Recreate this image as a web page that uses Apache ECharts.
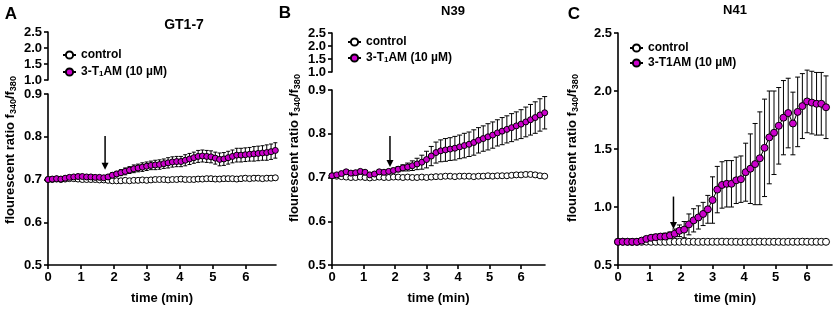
<!DOCTYPE html>
<html>
<head>
<meta charset="utf-8">
<script src="https://cdn.jsdelivr.net/npm/echarts@6/dist/echarts.min.js"></script>
<style>
  html, body { margin: 0; padding: 0; background: #fff; }
  #chart { width: 835px; height: 310px; }
</style>
</head>
<body>
<div id="chart"></div>
<script>
// panel A - GT1-7
const timeA = [0,0.13,0.26,0.39,0.52,0.65,0.78,0.91,1.04,1.17,1.3,1.43,1.56,1.69,1.82,1.95,2.08,2.21,2.34,2.47,2.6,2.73,2.86,2.99,3.12,3.25,3.38,3.51,3.64,3.77,3.9,4.03,4.16,4.29,4.42,4.55,4.68,4.81,4.94,5.07,5.2,5.33,5.46,5.59,5.72,5.85,5.98,6.11,6.24,6.37,6.5,6.63,6.76,6.89];
const ctrlA = [0.700,0.700,0.701,0.700,0.701,0.702,0.702,0.701,0.700,0.700,0.700,0.700,0.699,0.699,0.698,0.697,0.697,0.697,0.698,0.697,0.698,0.698,0.699,0.698,0.699,0.700,0.700,0.700,0.699,0.700,0.700,0.701,0.700,0.700,0.700,0.701,0.701,0.702,0.702,0.701,0.701,0.702,0.702,0.702,0.701,0.702,0.703,0.702,0.703,0.703,0.702,0.703,0.703,0.704];
const ctrlErrA = [0.002,0.002,0.003,0.003,0.003,0.003,0.003,0.003,0.003,0.003,0.003,0.003,0.003,0.003,0.004,0.004,0.004,0.004,0.004,0.004,0.004,0.004,0.004,0.004,0.004,0.004,0.004,0.004,0.004,0.004,0.004,0.004,0.004,0.004,0.004,0.005,0.005,0.005,0.005,0.005,0.005,0.005,0.005,0.005,0.005,0.005,0.005,0.005,0.005,0.005,0.005,0.005,0.005,0.005];
const drugA = [0.700,0.701,0.702,0.701,0.703,0.705,0.706,0.707,0.707,0.706,0.706,0.705,0.705,0.704,0.706,0.710,0.713,0.716,0.719,0.722,0.725,0.727,0.729,0.731,0.733,0.734,0.735,0.737,0.739,0.741,0.742,0.742,0.745,0.748,0.751,0.754,0.755,0.754,0.753,0.750,0.747,0.748,0.751,0.754,0.757,0.757,0.758,0.759,0.760,0.761,0.762,0.763,0.765,0.768];
const drugErrA = [0.002,0.003,0.003,0.003,0.003,0.004,0.004,0.004,0.004,0.004,0.004,0.004,0.004,0.004,0.005,0.006,0.006,0.007,0.008,0.008,0.009,0.009,0.010,0.010,0.010,0.011,0.011,0.011,0.012,0.012,0.012,0.012,0.013,0.013,0.013,0.014,0.014,0.014,0.014,0.014,0.015,0.015,0.015,0.015,0.016,0.016,0.016,0.016,0.017,0.017,0.017,0.018,0.018,0.018];
const arrowA = [1.73, 0.802, 0.723]; // time, top, tip

// panel B - N39
const timeB = [0,0.15,0.3,0.45,0.6,0.75,0.9,1.05,1.2,1.35,1.5,1.65,1.8,1.95,2.1,2.25,2.4,2.55,2.7,2.85,3,3.15,3.3,3.45,3.6,3.75,3.9,4.05,4.2,4.35,4.5,4.65,4.8,4.95,5.1,5.25,5.4,5.55,5.7,5.85,6,6.15,6.3,6.45,6.6,6.75];
const ctrlB = [0.704,0.703,0.702,0.701,0.700,0.700,0.701,0.700,0.699,0.700,0.701,0.700,0.700,0.701,0.701,0.700,0.701,0.700,0.700,0.701,0.700,0.701,0.702,0.702,0.703,0.703,0.702,0.703,0.703,0.703,0.702,0.703,0.703,0.704,0.703,0.704,0.704,0.704,0.705,0.706,0.706,0.707,0.707,0.706,0.704,0.703];
const ctrlErrB = [0.003,0.003,0.003,0.003,0.003,0.003,0.003,0.003,0.003,0.003,0.003,0.003,0.003,0.003,0.003,0.003,0.003,0.003,0.003,0.003,0.003,0.003,0.003,0.003,0.003,0.003,0.003,0.003,0.003,0.003,0.003,0.003,0.003,0.003,0.003,0.003,0.003,0.004,0.004,0.004,0.004,0.004,0.004,0.004,0.004,0.004];
const drugB = [0.704,0.706,0.709,0.713,0.710,0.711,0.714,0.712,0.706,0.708,0.713,0.712,0.714,0.716,0.719,0.722,0.724,0.727,0.731,0.735,0.741,0.749,0.757,0.761,0.763,0.765,0.767,0.770,0.773,0.776,0.780,0.785,0.789,0.793,0.797,0.802,0.806,0.810,0.814,0.818,0.822,0.827,0.832,0.837,0.843,0.848];
const drugErrB = [0.003,0.003,0.003,0.004,0.004,0.004,0.004,0.004,0.004,0.004,0.004,0.004,0.004,0.005,0.006,0.007,0.009,0.011,0.013,0.016,0.019,0.022,0.024,0.025,0.026,0.026,0.027,0.027,0.028,0.028,0.029,0.029,0.029,0.030,0.030,0.030,0.031,0.031,0.032,0.032,0.033,0.034,0.035,0.036,0.037,0.037];
const arrowB = [1.84, 0.795, 0.724];

// panel C - N41
const timeC = [0,0.15,0.3,0.45,0.6,0.75,0.9,1.05,1.2,1.35,1.5,1.65,1.8,1.95,2.1,2.25,2.4,2.55,2.7,2.85,3,3.15,3.3,3.45,3.6,3.75,3.9,4.05,4.2,4.35,4.5,4.65,4.8,4.95,5.1,5.25,5.4,5.55,5.7,5.85,6,6.15,6.3,6.45,6.6];
const ctrlC = [0.700,0.701,0.700,0.699,0.700,0.700,0.701,0.700,0.700,0.700,0.699,0.700,0.700,0.700,0.701,0.700,0.700,0.699,0.700,0.700,0.700,0.700,0.701,0.700,0.700,0.700,0.699,0.700,0.700,0.700,0.701,0.700,0.700,0.700,0.700,0.699,0.700,0.700,0.700,0.701,0.700,0.700,0.700,0.700,0.700];
const ctrlErrC = [0.008,0.008,0.008,0.008,0.008,0.008,0.008,0.008,0.008,0.008,0.008,0.008,0.008,0.008,0.008,0.008,0.008,0.008,0.008,0.008,0.008,0.008,0.008,0.008,0.008,0.008,0.008,0.008,0.008,0.008,0.008,0.008,0.008,0.008,0.008,0.008,0.008,0.008,0.008,0.008,0.008,0.008,0.008,0.008,0.008];
const drugC = [0.70,0.70,0.70,0.70,0.70,0.71,0.725,0.735,0.74,0.745,0.745,0.755,0.77,0.795,0.805,0.85,0.885,0.91,0.94,0.98,1.06,1.15,1.19,1.20,1.20,1.23,1.24,1.30,1.33,1.37,1.42,1.51,1.60,1.64,1.70,1.77,1.81,1.72,1.82,1.87,1.91,1.90,1.89,1.89,1.86];
const drugErrC = [0.01,0.01,0.01,0.01,0.01,0.015,0.02,0.02,0.025,0.025,0.03,0.03,0.04,0.05,0.07,0.09,0.10,0.10,0.10,0.12,0.20,0.20,0.20,0.20,0.20,0.20,0.20,0.25,0.30,0.35,0.40,0.42,0.40,0.36,0.33,0.32,0.30,0.27,0.30,0.28,0.27,0.27,0.27,0.27,0.27];
const arrowC = [1.76, 1.09, 0.81];

// ticks
const xTicks = [0, 1, 2, 3, 4, 5, 6];
const yTicksLow = [0.5, 0.6, 0.7, 0.8, 0.9];
const yTicksHigh = [1.0, 1.5, 2.0, 2.5];
const yTicksC = [0.5, 1.0, 1.5, 2.0, 2.5];

const FONT = 'Liberation Sans, Arial, sans-serif';
const MAGENTA = '#cc00cc';

let chartDom = document.getElementById('chart');
let chart = echarts.init(chartDom, null, {renderer: 'canvas'});

function xAxisOf(grid, max, show) {
  return {
    type: 'value', gridIndex: grid, min: 0, max: max, show: show,
    name: 'time (min)', nameLocation: 'middle', nameGap: 27,
    nameTextStyle: {color: '#000', fontSize: 13, fontWeight: 'bold', fontFamily: FONT},
    axisLine: {lineStyle: {color: '#000', width: 1.6}},
    axisTick: {length: 4, customValues: xTicks, lineStyle: {color: '#000', width: 1.6}},
    axisLabel: {customValues: xTicks, color: '#000', fontSize: 13, fontWeight: 'bold', fontFamily: FONT, margin: 6},
    splitLine: {show: false}
  };
}

function yAxisOf(grid, min, max, ticks) {
  return {
    type: 'value', gridIndex: grid, min: min, max: max,
    axisLine: {show: true, lineStyle: {color: '#000', width: 1.6}},
    axisTick: {show: true, length: 4, customValues: ticks, lineStyle: {color: '#000', width: 1.6}},
    axisLabel: {
      customValues: ticks, color: '#000', fontSize: 13, fontWeight: 'bold', fontFamily: FONT, margin: 6,
      formatter: v => v.toFixed(1)
    },
    splitLine: {show: false}
  };
}

function errSeries(axis, t, m, e, cap) {
  return {
    type: 'custom', xAxisIndex: axis, yAxisIndex: axis, z: 1, silent: true,
    data: t.map((v, i) => [v, m[i], e[i]]),
    renderItem: function (params, api) {
      const x = api.value(0), y = api.value(1), d = api.value(2);
      const top = api.coord([x, y + d]);
      const bot = api.coord([x, y - d]);
      const st = {stroke: '#000', lineWidth: 1};
      return {
        type: 'group',
        children: [
          {type: 'line', shape: {x1: top[0], y1: top[1], x2: bot[0], y2: bot[1]}, style: st},
          {type: 'line', shape: {x1: top[0] - cap, y1: top[1], x2: top[0] + cap, y2: top[1]}, style: st},
          {type: 'line', shape: {x1: bot[0] - cap, y1: bot[1], x2: bot[0] + cap, y2: bot[1]}, style: st}
        ]
      };
    }
  };
}

// downward arrow marking the moment of application
function arrowSeries(axis, arrow) {
  return {
    type: 'custom', xAxisIndex: axis, yAxisIndex: axis, z: 5, silent: true,
    data: [arrow],
    renderItem: function (params, api) {
      const top = api.coord([api.value(0), api.value(1)]);
      const tip = api.coord([api.value(0), api.value(2)]);
      return {
        type: 'group',
        children: [
          {type: 'line', shape: {x1: top[0], y1: top[1], x2: tip[0], y2: tip[1] - 5},
            style: {stroke: '#000', lineWidth: 1.5}},
          {type: 'polygon', shape: {points: [[tip[0] - 3.5, tip[1] - 7], [tip[0] + 3.5, tip[1] - 7], [tip[0], tip[1]]]},
            style: {fill: '#000'}}
        ]
      };
    }
  };
}

function lineSeries(axis, name, t, m, fill, size, z) {
  return {
    type: 'line', name: name, xAxisIndex: axis, yAxisIndex: axis, z: z,
    data: t.map((v, i) => [v, m[i]]),
    symbol: 'circle', symbolSize: size, showSymbol: true,
    lineStyle: {color: '#000', width: 1},
    itemStyle: {color: fill, borderColor: '#000', borderWidth: 1}
  };
}

function legendOf(left, top, gap, sub) {
  return {
    left: left, top: top, orient: 'vertical', padding: 0, itemGap: gap,
    itemWidth: 13, itemHeight: 9, selectedMode: false,
    data: ['control', '3-T1AM (10 µM)'],
    formatter: n => (n === 'control' ? 'control' : (sub ? '3-T{s|1}AM (10 µM)' : '3-T1AM (10 µM)')),
    textStyle: {
      color: '#000', fontSize: 12, fontWeight: 'bold', fontFamily: FONT,
      rich: {s: {fontSize: 8, fontWeight: 'bold', fontFamily: FONT, verticalAlign: 'bottom', lineHeight: 10}}
    }
  };
}

function textEl(x, y, text, size, rot) {
  return {
    type: 'text', x: x, y: y, rotation: rot || 0, silent: true,
    style: {
      text: text, fill: '#000', fontSize: size, fontWeight: 'bold', fontFamily: FONT,
      textAlign: 'center', textVerticalAlign: 'middle', align: 'center', verticalAlign: 'middle',
      lineHeight: 16,
      rich: {s: {fontSize: 9, fontWeight: 'bold', fontFamily: FONT, verticalAlign: 'bottom', lineHeight: 10}}
    }
  };
}

const yName = 'flourescent ratio f{s|340}/f{s|380}';

let option = {
  animation: false,
  backgroundColor: '#fff',
  grid: [
    {left: 48, top: 94, width: 228, height: 176},
    {left: 48, top: 32, width: 228, height: 48},
    {left: 332, top: 90, width: 213, height: 178},
    {left: 332, top: 33, width: 213, height: 39},
    {left: 618, top: 33, width: 214, height: 237}
  ],
  xAxis: [
    xAxisOf(0, 6.91, true),
    xAxisOf(1, 6.91, false),
    xAxisOf(2, 6.76, true),
    xAxisOf(3, 6.76, false),
    xAxisOf(4, 6.79, true)
  ],
  yAxis: [
    yAxisOf(0, 0.5, 0.9, yTicksLow),
    yAxisOf(1, 1.0, 2.5, yTicksHigh),
    yAxisOf(2, 0.5, 0.9, yTicksLow),
    yAxisOf(3, 1.0, 2.5, yTicksHigh),
    yAxisOf(4, 0.5, 2.5, yTicksC)
  ],
  legend: [
    legendOf(62, 49, 5, true),
    legendOf(347, 36, 4, true),
    legendOf(629, 42, 3, false)
  ],
  graphic: [
    textEl(11, 14, 'A', 17),
    textEl(184, 25, 'GT1-7', 14),
    textEl(285, 13, 'B', 17),
    textEl(453, 11, 'N39', 13),
    textEl(574, 14, 'C', 17),
    textEl(735, 10, 'N41', 13),
    textEl(10, 150, yName, 13, Math.PI / 2),
    textEl(294, 148, yName, 13, Math.PI / 2),
    textEl(572, 148, yName, 13, Math.PI / 2)
  ],
  series: [
    errSeries(0, timeA, ctrlA, ctrlErrA, 2),
    errSeries(0, timeA, drugA, drugErrA, 2),
    lineSeries(0, 'control', timeA, ctrlA, '#fff', 6, 2),
    lineSeries(0, '3-T1AM (10 µM)', timeA, drugA, MAGENTA, 6, 3),
    arrowSeries(0, arrowA),

    errSeries(2, timeB, ctrlB, ctrlErrB, 2.5),
    errSeries(2, timeB, drugB, drugErrB, 2.5),
    lineSeries(2, 'control', timeB, ctrlB, '#fff', 6, 2),
    lineSeries(2, '3-T1AM (10 µM)', timeB, drugB, MAGENTA, 6, 3),
    arrowSeries(2, arrowB),

    errSeries(4, timeC, ctrlC, ctrlErrC, 2.5),
    errSeries(4, timeC, drugC, drugErrC, 2.5),
    lineSeries(4, 'control', timeC, ctrlC, '#fff', 7, 2),
    lineSeries(4, '3-T1AM (10 µM)', timeC, drugC, MAGENTA, 7, 3),
    arrowSeries(4, arrowC)
  ]
};

chart.setOption(option);
window.addEventListener('resize', function () {
  chart.resize();
});
</script>
</body>
</html>
